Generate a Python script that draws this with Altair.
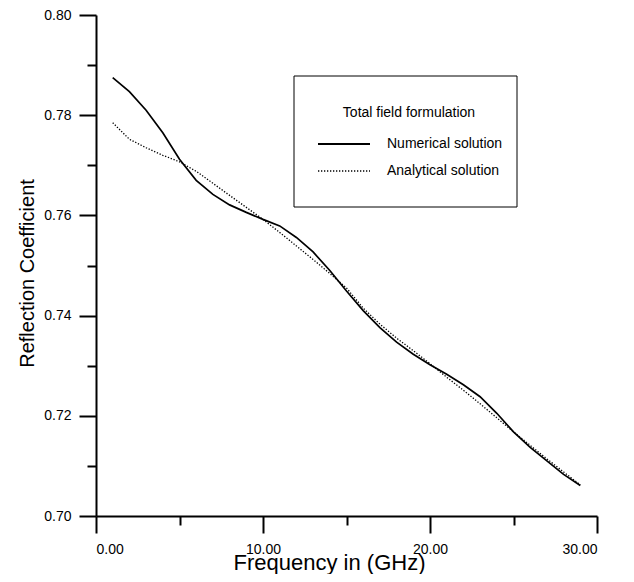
import altair as alt
import pandas as pd

# ---- data ----
freq_ghz = list(range(1, 30))
numerical = [0.7875, 0.7847, 0.7810, 0.7765, 0.7712, 0.7670, 0.7642, 0.7621, 0.7606, 0.7592,
             0.7579, 0.7556, 0.7527, 0.7490, 0.7449, 0.7410, 0.7376, 0.7347, 0.7323, 0.7302,
             0.7283, 0.7262, 0.7238, 0.7205, 0.7168, 0.7137, 0.7110, 0.7083, 0.7061]
analytical = [0.7785, 0.7752, 0.7735, 0.7720, 0.7707, 0.7688, 0.7664, 0.7640, 0.7616, 0.7592,
              0.7566, 0.7539, 0.7512, 0.7484, 0.7455, 0.7415, 0.7383, 0.7355, 0.7330, 0.7304,
              0.7277, 0.7251, 0.7224, 0.7196, 0.7168, 0.7141, 0.7114, 0.7088, 0.7062]
series_names = ["Numerical solution", "Analytical solution"]
legend_title = "Total field formulation"
x_major = [0, 10, 20, 30]
x_minor = [5, 15, 25]
y_major = [0.70, 0.72, 0.74, 0.76, 0.78, 0.80]
y_minor = [0.71, 0.73, 0.75, 0.77, 0.79]

df = pd.DataFrame({
    "freq": freq_ghz * 2,
    "value": numerical + analytical,
    "series": [series_names[0]] * len(freq_ghz) + [series_names[1]] * len(freq_ghz),
})

FONT = "Liberation Sans"
xs = alt.Scale(domain=[0, 30], nice=False, zero=False)
ys = alt.Scale(domain=[0.70, 0.80], nice=False, zero=False)

major_common = dict(grid=False, domainColor="black", domainWidth=2, tickColor="black",
                    tickWidth=2, tickSize=17, labelColor="black", labelFont=FONT,
                    labelFontSize=14, titleFont=FONT,
                    titleFontWeight="normal", titleColor="black", format=".2f")
minor_common = dict(grid=False, domain=False, labels=False, tickColor="black",
                    tickWidth=2, tickSize=9)

base = alt.Chart(df)

num_line = base.transform_filter(alt.datum.series == series_names[0]).mark_line(
    color="black", strokeWidth=1.7
).encode(
    x=alt.X("freq:Q", scale=xs, title="Frequency in (GHz)",
            axis=alt.Axis(values=x_major, orient="bottom", labelPadding=9,
                          titleX=233, titleY=53, titleBaseline="alphabetic",
                          titleFontSize=22, **major_common)),
    y=alt.Y("value:Q", scale=ys, title="Reflection Coefficient",
            axis=alt.Axis(values=y_major, orient="left", labelPadding=8,
                          titleX=-63, titleY=258, titleAngle=-90,
                          titleBaseline="alphabetic", titleFontSize=20,
                          **major_common)),
)

ana_line = base.transform_filter(alt.datum.series == series_names[1]).mark_line(
    color="black", strokeWidth=1.3, strokeDash=[1.3, 1.7]
).encode(
    x=alt.X("freq:Q", scale=xs, title="",
            axis=alt.Axis(values=x_minor, orient="bottom", **minor_common)),
    y=alt.Y("value:Q", scale=ys, title="",
            axis=alt.Axis(values=y_minor, orient="left", **minor_common)),
)

# ---- legend box ----
one = pd.DataFrame({"k": [0]})
box = alt.Chart(one).mark_rect(filled=False, stroke="black", strokeWidth=1).encode(
    x=alt.value(198), x2=alt.value(421), y=alt.value(61), y2=alt.value(192)
)
title_txt = alt.Chart(pd.DataFrame({"t": [legend_title]})).mark_text(
    font=FONT, fontSize=14, color="black", align="center", baseline="middle"
).encode(x=alt.value(313), y=alt.value(98), text="t:N")
lab1 = alt.Chart(pd.DataFrame({"t": [series_names[0]]})).mark_text(
    font=FONT, fontSize=14, color="black", align="left", baseline="middle"
).encode(x=alt.value(291), y=alt.value(129), text="t:N")
lab2 = alt.Chart(pd.DataFrame({"t": [series_names[1]]})).mark_text(
    font=FONT, fontSize=14, color="black", align="left", baseline="middle"
).encode(x=alt.value(291), y=alt.value(156), text="t:N")
sym1 = alt.Chart(one).mark_rule(color="black", strokeWidth=2).encode(
    x=alt.value(222), x2=alt.value(274), y=alt.value(129)
)
sym2 = alt.Chart(one).mark_rule(color="black", strokeWidth=1.3, strokeDash=[1.3, 1.7]).encode(
    x=alt.value(222), x2=alt.value(274), y=alt.value(156)
)

chart = alt.layer(num_line, ana_line, box, title_txt, lab1, lab2, sym1, sym2).resolve_axis(
    x="independent", y="independent"
).properties(
    width=501, height=501,
    autosize=alt.AutoSizeParams(type="none"),
    padding={"left": 88, "top": 7, "right": 20, "bottom": 58},
).configure_view(strokeWidth=0)

chart.save("out.html", embed_options={"renderer": "svg", "actions": False})
